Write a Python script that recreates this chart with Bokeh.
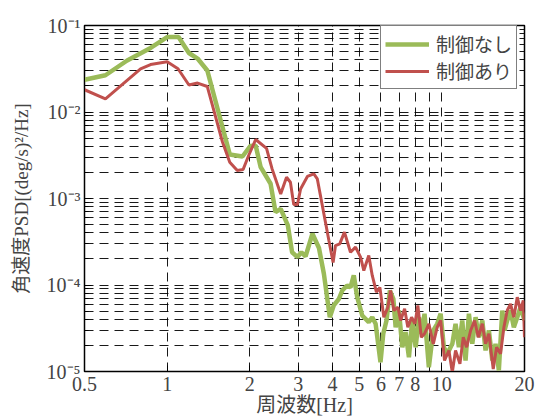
from bokeh.plotting import figure
from bokeh.models import FixedTicker, Legend, LegendItem, Range1d
from bokeh.embed import file_html
from bokeh.resources import INLINE

# ---- data ----
freq_off = [0.5, 0.596, 0.715, 0.87, 1.0, 1.10, 1.2, 1.29, 1.40, 1.69, 1.88, 2.01, 2.10, 2.19,
            2.38, 2.48, 2.59, 2.75, 2.85, 2.98, 3.08, 3.19, 3.38, 3.57, 3.72, 3.91, 4.04, 4.22,
            4.34, 4.52, 4.65, 4.78, 4.92, 5.13, 5.42, 5.58, 5.74, 5.98, 6.12, 6.29, 6.47, 6.66,
            6.79, 6.98, 7.18, 7.38, 7.59, 7.80, 8.03, 8.25, 8.42, 8.65, 8.97, 9.31, 9.62, 9.90,
            10.17, 10.47, 10.92, 11.22, 11.54, 11.87, 12.20, 12.55, 12.91, 13.27, 13.64, 14.04,
            14.43, 14.84, 15.27, 15.69, 16.13, 16.6, 16.92, 17.3, 17.79, 18.29, 18.82, 19.35, 20.0]
psd_off = [0.0236, 0.0266, 0.0394, 0.055, 0.0736, 0.0736, 0.0481, 0.0415, 0.0302, 3.23e-3,
           3.06e-3, 4.05e-3, 4.1e-3, 2.30e-3, 1.48e-3, 6.95e-4, 7.6e-4, 4.88e-4, 2.39e-4, 2.10e-4,
           2.39e-4, 2.14e-4, 3.91e-4, 2.68e-4, 1.35e-4, 4.24e-5, 5.8e-5, 6.93e-5, 8.64e-5, 9.87e-5,
           9.4e-5, 1.29e-4, 7.23e-5, 4.44e-5, 3.72e-5, 4.24e-5, 3.56e-5, 1.28e-5, 2.73e-5, 3.89e-5,
           8.64e-5, 6.93e-5, 3.25e-5, 5.07e-5, 1.91e-5, 2.85e-5, 1.46e-5, 3.89e-5, 1.91e-5, 4.24e-5,
           2.73e-5, 4.65e-5, 1.12e-5, 2.98e-5, 3.56e-5, 4.65e-5, 1.91e-5, 1.60e-5, 2.09e-5, 3.56e-5,
           1.91e-5, 3.89e-5, 1.34e-5, 4.65e-5, 2.09e-5, 4.24e-5, 2.49e-5, 3.89e-5, 1.75e-5, 2.98e-5,
           1.34e-5, 2.09e-5, 1.03e-5, 5.07e-5, 2.98e-5, 3.89e-5, 5.07e-5, 3.25e-5, 4.24e-5, 5.54e-5,
           3.89e-5]

freq_on = [0.5, 0.596, 0.80, 0.87, 1.0, 1.095, 1.2, 1.29, 1.40, 1.59, 1.69, 1.80, 1.89, 1.98,
           2.10, 2.30, 2.41, 2.59, 2.72, 2.81, 2.89, 2.98, 3.06, 3.24, 3.42, 3.52, 3.77, 3.88,
           4.02, 4.10, 4.25, 4.42, 4.65, 4.85, 5.06, 5.20, 5.42, 5.58, 5.78, 5.95, 6.15, 6.36,
           6.51, 6.69, 6.92, 7.08, 7.32, 7.52, 7.76, 7.98, 8.18, 8.42, 8.65, 8.97, 9.31, 9.62,
           9.90, 10.23, 10.61, 10.92, 11.22, 11.64, 11.97, 12.31, 12.73, 13.16, 13.58, 14.04,
           14.43, 14.84, 15.39, 15.83, 16.36, 16.83, 17.3, 17.79, 18.29, 18.82, 19.35, 19.8, 20.0]
psd_on = [0.0181, 0.0142, 0.0316, 0.0354, 0.038, 0.0316, 0.0205, 0.0216, 0.0197, 4.5e-3,
          2.63e-3, 2.11e-3, 2.16e-3, 3.14e-3, 4.81e-3, 3.79e-3, 2.2e-3, 1.13e-3, 1.76e-3, 1.54e-3,
          8.5e-4, 8.5e-4, 1.29e-3, 1.80e-3, 1.93e-3, 1.69e-3, 5.32e-4, 3.27e-4, 1.82e-4, 2.86e-4,
          2.99e-4, 4.08e-4, 2.39e-4, 2.74e-4, 2.10e-4, 1.47e-4, 2.19e-4, 1.29e-4, 8.26e-5, 9.4e-5,
          4.24e-5, 5.54e-5, 8.64e-5, 5.07e-5, 5.54e-5, 3.89e-5, 5.31e-5, 3.25e-5, 4.24e-5, 3.56e-5,
          5.8e-5, 2.49e-5, 2.73e-5, 3.56e-5, 2.09e-5, 3.25e-5, 3.89e-5, 1.34e-5, 1.75e-5, 0.98e-5,
          1.75e-5, 1.23e-5, 2.49e-5, 1.91e-5, 2.98e-5, 3.89e-5, 2.49e-5, 3.56e-5, 2.09e-5, 2.73e-5,
          1.07e-5, 1.91e-5, 1.60e-5, 3.25e-5, 5.07e-5, 6.06e-5, 4.24e-5, 7.23e-5, 5.07e-5, 6.62e-5,
          2.49e-5]

series_labels = ["制御なし", "制御あり"]

x_ticks = [0.5, 1, 2, 3, 4, 5, 6, 7, 8, 10, 20]
x_tick_labels = ["0.5", "1", "2", "3", "4", "5", "6", "7", "8", "10", "20"]
x_grid = [1, 2, 3, 4, 5, 6, 7, 8, 9, 10]
y_ticks = [1e-5, 1e-4, 1e-3, 1e-2, 1e-1]
y_tick_labels = ["10⁻⁵", "10⁻⁴", "10⁻³", "10⁻²", "10⁻¹"]
y_minor = [m * 10.0 ** k for k in range(-5, -1) for m in range(2, 10)]

GREEN = "#9BBB59"
RED = "#C0504D"
SERIF = "Liberation Serif"
MIXED = "Liberation Serif, 'Noto Sans CJK JP'"
JP = "Noto Sans CJK JP"

p = figure(width=535, height=419, x_axis_type="log", y_axis_type="log",
           x_range=Range1d(0.5, 20), y_range=Range1d(1e-5, 1e-1),
           output_backend="svg", toolbar_location=None,
           min_border_left=84, min_border_right=11, min_border_top=25, min_border_bottom=48)

p.background_fill_color = "white"
p.border_fill_color = "white"
p.outline_line_color = "black"
p.outline_line_width = 1.5

# grids
p.xgrid.ticker = FixedTicker(ticks=x_grid)
p.ygrid.ticker = FixedTicker(ticks=sorted(y_ticks + y_minor))
for g in (p.xgrid, p.ygrid):
    g.grid_line_color = "black"
    g.grid_line_width = 1
    g.grid_line_dash = "9 6"
    g.grid_line_alpha = 0.9

# x axis
xa = p.xaxis[0]
xa.ticker = FixedTicker(ticks=x_ticks)
xa.major_label_overrides = dict(zip(x_ticks, x_tick_labels))
xa.axis_label = "周波数[Hz]"
xa.axis_label_text_font = MIXED
xa.axis_label_text_font_style = "normal"
xa.axis_label_text_font_size = "20px"
xa.axis_label_standoff = 0
xa.major_label_text_font = SERIF
xa.major_label_text_font_size = "20px"
xa.major_label_standoff = 5
xa.major_tick_in = 6
xa.major_tick_out = 0
xa.minor_tick_line_color = None
xa.axis_line_color = "black"

# y axis
ya = p.yaxis[0]
ya.ticker = FixedTicker(ticks=y_ticks, minor_ticks=y_minor)
ya.major_label_overrides = dict(zip(y_ticks, y_tick_labels))
ya.axis_label = "角速度PSD[(deg/s)²/Hz]"
ya.axis_label_text_font = MIXED
ya.axis_label_text_font_style = "normal"
ya.axis_label_text_font_size = "19px"
ya.axis_label_standoff = 12
ya.major_label_text_font = SERIF
ya.major_label_text_font_size = "20px"
ya.major_label_standoff = 4
ya.major_tick_in = 7
ya.major_tick_out = 0
ya.minor_tick_in = 4
ya.minor_tick_out = 0
ya.axis_line_color = "black"

r1 = p.line(freq_off, psd_off, line_color=GREEN, line_width=4.5)
r2 = p.line(freq_on, psd_on, line_color=RED, line_width=3)

legend = Legend(items=[LegendItem(label=series_labels[0], renderers=[r1]),
                       LegendItem(label=series_labels[1], renderers=[r2])],
                location=(296, 282))
legend.label_text_font = JP
legend.label_text_font_size = "19px"
legend.glyph_width = 44
legend.glyph_height = 20
legend.label_height = 20
legend.label_standoff = 7
legend.spacing = 0
legend.padding = 4
legend.border_line_color = "black"
legend.border_line_width = 1
legend.background_fill_alpha = 1
p.add_layout(legend)

open("out.html", "w").write(file_html(p, INLINE))
